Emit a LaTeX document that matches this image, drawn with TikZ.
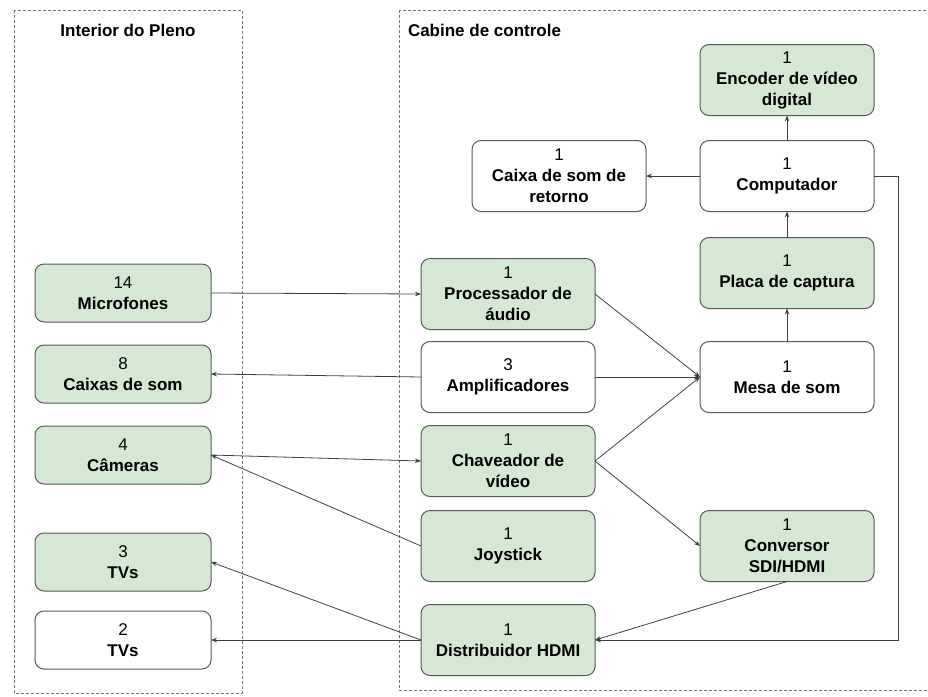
\documentclass[tikz,border=0pt]{standalone}
\usepackage{fontspec}
\setmainfont{Liberation Sans}
\usetikzlibrary{arrows.meta}
\definecolor{boxgreen}{HTML}{D5E8D4}
\begin{document}
\begin{tikzpicture}[x=1pt, y=-1pt,
  >={Stealth[length=6pt,width=4.5pt]}, %
  inner sep=2pt, outer sep=0pt,%
  every node/.style={font=\fontsize{17}{21}\selectfont},
  unit/.style={draw=black!65, line width=1pt, rounded corners=9pt, align=center,
    minimum width=174pt, minimum height=71pt},
  small unit/.style={unit, minimum width=176pt, minimum height=58pt},
  green/.style={fill=boxgreen},
  link/.style={->, draw=black!75, line width=0.8pt},
  frame/.style={draw=black!55, line width=0.8pt, dash pattern=on 3pt off 2pt}]

\useasboundingbox (0,0) rectangle (928,696);

% areas
\draw[frame] (14,10) rectangle (242,693);
\draw[frame] (399,10) rectangle (940,690);
\node[font=\bfseries\fontsize{17}{21}\selectfont] (pleno) at (128,30) {Interior do Pleno};
\node[font=\bfseries\fontsize{17}{21}\selectfont, anchor=west] (cabine) at (406,30) {Cabine de controle};

% interior do pleno
\node[small unit,green] (mic) at (123,293) {14\\\textbf{Microfones}};
\node[small unit,green] (cxsom) at (123,374) {8\\\textbf{Caixas de som}};
\node[small unit,green] (cam) at (123,455) {4\\\textbf{Câmeras}};
\node[small unit,green] (tvA) at (123,562) {3\\\textbf{TVs}};
\node[small unit] (tvB) at (123,640) {2\\\textbf{TVs}};

% cabine de controle
\node[unit,green] (proc) at (508,294) {1\\\textbf{Processador de}\\\textbf{áudio}};
\node[unit] (amp) at (508,377) {3\\\textbf{Amplificadores}};
\node[unit,green] (chav) at (508,461) {1\\\textbf{Chaveador de}\\\textbf{vídeo}};
\node[unit,green] (joy) at (508,546) {1\\\textbf{Joystick}};
\node[unit,green] (dist) at (508,640) {1\\\textbf{Distribuidor HDMI}};

\node[unit,green] (enc) at (787,80) {1\\\textbf{Encoder de vídeo}\\\textbf{digital}};
\node[unit] (comp) at (787,176) {1\\\textbf{Computador}};
\node[unit] (ret) at (559,176) {1\\\textbf{Caixa de som de}\\\textbf{retorno}};
\node[unit,green] (placa) at (787,273) {1\\\textbf{Placa de captura}};
\node[unit] (mesa) at (787,377) {1\\\textbf{Mesa de som}};
\node[unit,green] (conv) at (787,546) {1\\\textbf{Conversor}\\\textbf{SDI/HDMI}};

\coordinate (turn) at (898,640);

% ligacoes
\draw[link] (mic.east) -- (proc.west);
\draw[link] (amp.west) -- (cxsom.east);
\draw[link] (cam.east) -- (chav.west);
\draw[link] (joy.west) -- (cam.east);
\draw[link] (dist.west) -- (tvA.east);
\draw[link] (dist.west) -- (tvB.east);

\draw[link] (proc.east) -- (mesa.west);
\draw[link] (amp.east) -- (mesa.west);
\draw[link] (chav.east) -- (mesa.west);
\draw[link] (chav.east) -- (conv.west);
\draw[link] (conv.south) -- (dist.east);

\draw[link] (mesa.north) -- (placa.south);
\draw[link] (placa.north) -- (comp.south);
\draw[link] (comp.north) -- (enc.south);
\draw[link] (comp.west) -- (ret.east);
\draw[link] (comp.east) -| (turn) -- (dist.east);

\end{tikzpicture}
\end{document}
